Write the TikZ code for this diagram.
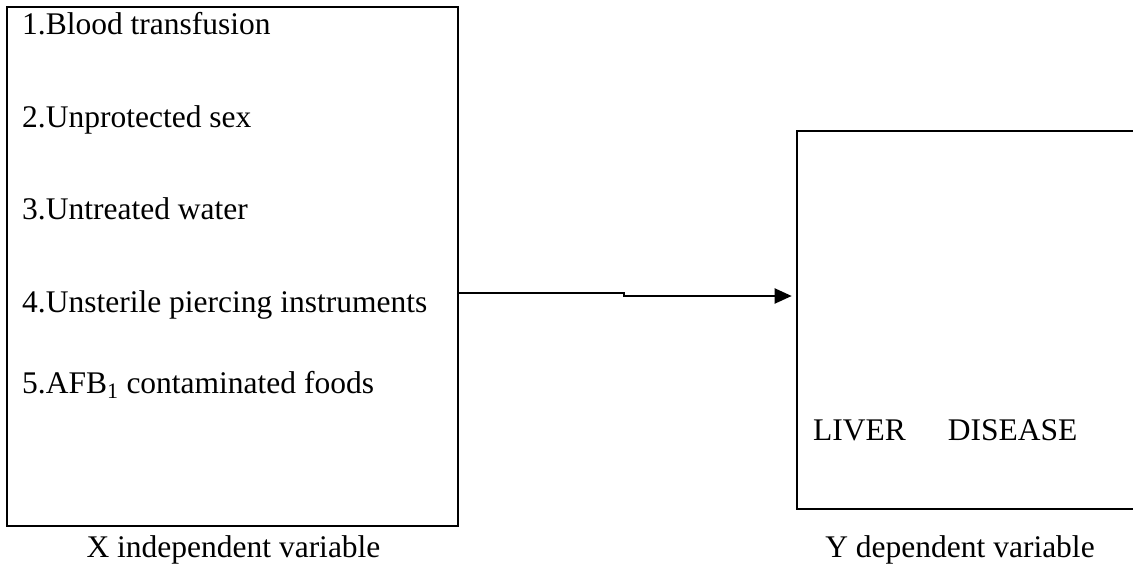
\documentclass[tikz,border=0pt]{standalone}
\usepackage{fontspec}
\setmainfont{Liberation Serif}
\usetikzlibrary{arrows.meta}

\begin{document}
\begin{tikzpicture}[x=1pt, y=-1pt, every node/.style={font=\fontsize{31.5}{36}\selectfont}]
			 \useasboundingbox (0,0) rectangle (1133,565);
			 \node[draw,line width=2.6pt,minimum width=451pt,minimum height=519pt,inner sep=0pt] (xbox)at(232.5,266.5) {};
			 \node[draw,line width=2.6pt,minimum width=346pt,minimum height=378pt,inner sep=0pt] (ybox)at(970,320) {};
			 \node[anchor=base west,inner sep=0pt] (x1)at(22,34) {1.Blood transfusion};
			 \node[anchor=base west,inner sep=0pt] (x2)at(22,127) {2.Unprotected sex};
			 \node[anchor=base west,inner sep=0pt] (x3)at(22,219) {3.Untreated water};
			 \node[anchor=base west,inner sep=0pt] (x4)at(22,312) {4.Unsterile piercing instruments};
			 \node[anchor=base west,inner sep=0pt] (x5)at(22,393) {5.AFB\textsubscript{1} contaminated foods};
			 \node[anchor=base west,inner sep=0pt] (y1)at(813,440) {LIVER\hspace{42pt}DISEASE};
			 \node[anchor=base,inner sep=0pt] (xcap)at(233.5,557) {X independent variable};
			 \node[anchor=base,inner sep=0pt] (ycap)at(960,557) {Y dependent variable};
			 \coordinate (bend)at(624,293);
			 \draw[line width=2pt,-{Triangle[length=17pt,width=15pt]},shorten >=4pt] (xbox.east |- bend) -- (bend) -- ++(0,3) -- (ybox.west |- 0,296);
		\end{tikzpicture}
\end{document}
